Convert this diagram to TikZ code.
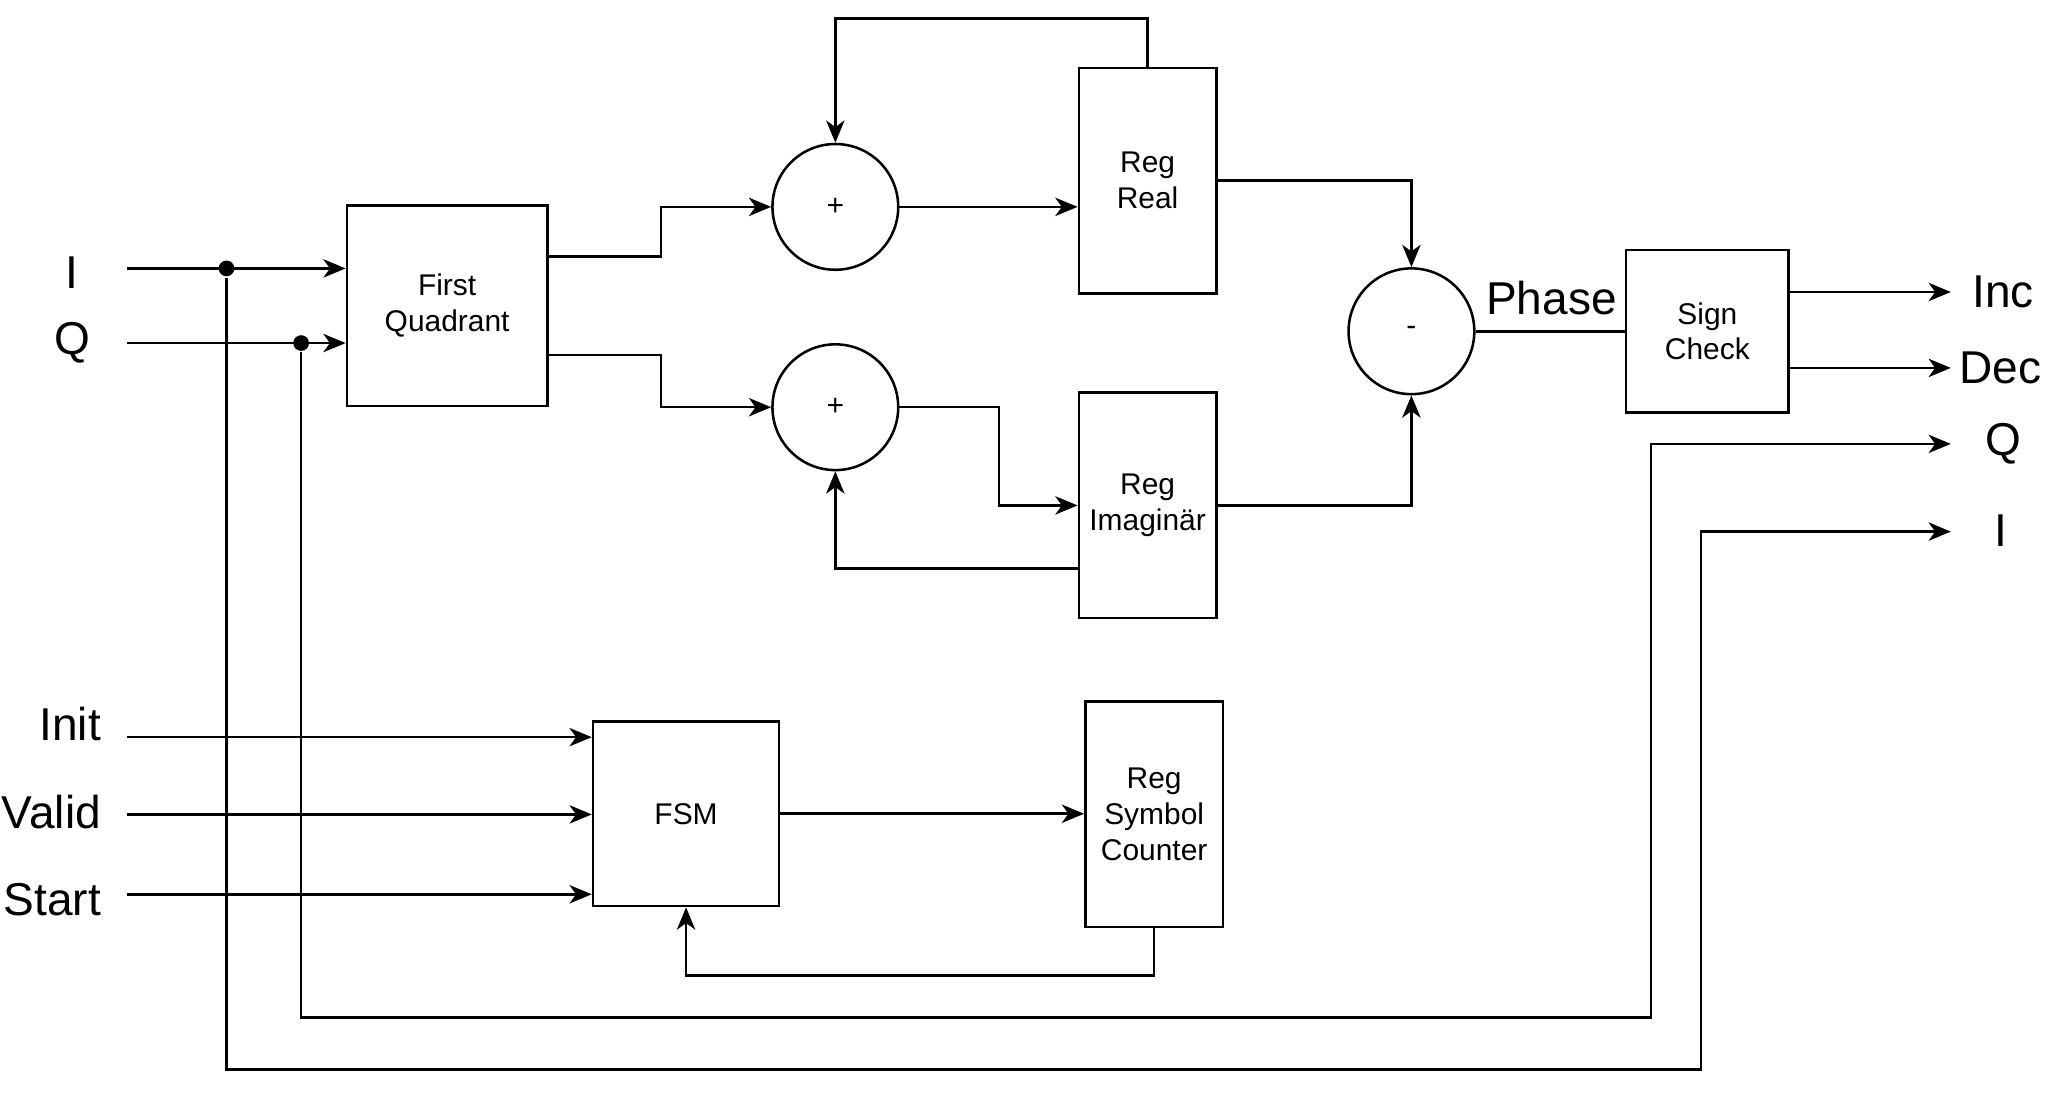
\documentclass[tikz,border=0pt]{standalone}
\usepackage{fontspec}
\setmainfont{Liberation Sans}
\usetikzlibrary{arrows.meta}
\begin{document}
\begin{tikzpicture}[>={Stealth[length=1.7mm,width=1.4mm,inset=0.5mm]},x=0.01cm,y=-0.01cm,line width=0.55pt,
    blk/.style={draw,rectangle,align=center,inner sep=0pt,font=\fontsize{6.5}{7.8}\selectfont},
    sum/.style={draw,circle,minimum size=0.96cm,inner sep=0pt,font=\fontsize{6.5}{7.8}\selectfont},
    sig/.style={inner sep=0pt,font=\fontsize{10}{12}\selectfont},
    dot/.style={circle,fill,inner sep=0pt,minimum size=1.2mm}]
                \useasboundingbox (0,0) rectangle (1568,835);
                \node[blk,minimum width=1.53cm,minimum height=1.53cm] (fq) at (341.5,233.5) {First\\Quadrant};
                \node[sum] (add1) at (638,158) {+};
                \node[sum] (add2) at (638,311) {+};
                \node[blk,minimum width=1.05cm,minimum height=1.72cm] (regre) at (876.5,138) {Reg\\Real};
                \node[blk,minimum width=1.05cm,minimum height=1.72cm] (regim) at (876.5,386) {Reg\\Imaginär};
                \node[sum] (sub) at (1078,253) {-};
                \node[blk,minimum width=1.24cm,minimum height=1.24cm] (sign) at (1304,253) {Sign\\Check};
                \node[blk,minimum width=1.42cm,minimum height=1.41cm] (fsm) at (524,621.5) {FSM};
                \node[blk,minimum width=1.05cm,minimum height=1.72cm] (rsc) at (881.5,622) {Reg\\Symbol\\Counter};
                \node[sig] (li) at (55,208) {I};
                \node[sig] (lq) at (55,262) {Q};
                \node[sig,anchor=east] (linit) at (78,553) {Init};
                \node[sig,anchor=east] (lvalid) at (78,620) {Valid};
                \node[sig,anchor=east] (lstart) at (78,687) {Start};
                \node[sig] (lphase) at (1185,228) {Phase};
                \node[sig] (linc) at (1530,223) {Inc};
                \node[sig] (ldec) at (1528,281) {Dec};
                \node[sig] (loq) at (1530,339) {Q};
                \node[sig] (loi) at (1528,405) {I};
                \coordinate (iin) at (97,205);
                \coordinate (qin) at (97,262);
                \coordinate (initin) at (97,563);
                \coordinate (validin) at (97,622);
                \coordinate (startin) at (97,683);
                \coordinate (oinc) at (1490,223);
                \coordinate (odec) at (1490,281);
                \coordinate (oq) at (1490,339);
                \coordinate (oi) at (1490,406);
                \node[dot] (idot) at (173,205) {};
                \node[dot] (qdot) at (230,262) {};
                \draw[->] (iin) -- (fq.west |- iin);
                \draw[->] (qin) -- (fq.west |- qin);
                \draw[->] (fq.east |- 0,196) -- (505,196) |- (add1.west);
                \draw[->] (fq.east |- 0,271) -- (505,271) |- (add2.west);
                \draw[->] (add1.east) -- (regre.west |- add1.east);
                \draw[->] (regre.north) -- (regre.north |- 0,14) -| (add1.north);
                \draw[->] (add2.east) -- (763,311) |- (regim.west);
                \draw[->] (regim.west |- 0,434) -| (add2.south);
                \draw[->] (regre.east) -| (sub.north);
                \draw[->] (regim.east) -| (sub.south);
                \draw (sub.east) -- (sign.west);
                \draw[->] (sign.east |- oinc) -- (oinc);
                \draw[->] (sign.east |- odec) -- (odec);
                \draw[->] (qdot) -- (230,777) -| (1261,339) -- (oq);
                \draw[->] (idot) -- (173,817) -| (1299,406) -- (oi);
                \draw[->] (initin) -- (fsm.west |- initin);
                \draw[->] (validin) -- (fsm.west |- validin);
                \draw[->] (startin) -- (fsm.west |- startin);
                \draw[->] (fsm.east) -- (rsc.west |- fsm.east);
                \draw[->] (rsc.south) -- (rsc.south |- 0,745) -| (fsm.south);
            \end{tikzpicture}
\end{document}
